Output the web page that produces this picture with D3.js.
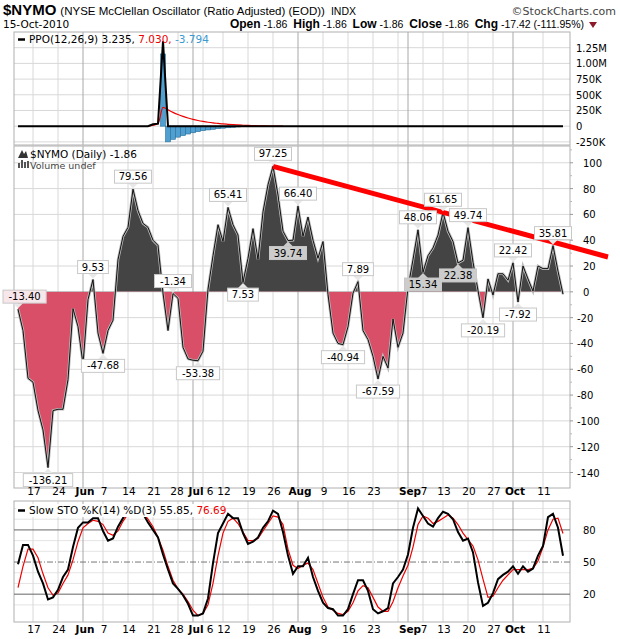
<!DOCTYPE html>
<html><head><meta charset="utf-8">
<script src="https://cdn.jsdelivr.net/npm/d3@7"></script>
<style>body{margin:0;background:#fff}svg{font-family:"DejaVu Sans",Verdana,sans-serif}</style>
</head><body><svg id="c" width="620" height="639"></svg>
<script>
// ---- data ----
const nymo = [-13.40,-30,-67,-70,-92,-107,-136.21,-92,-91,-91,-68,-13,-27,-56,-6,9.53,-32,-47.68,-30,-22,
25,43,50,79.56,63,53,50,40,36,-1,-30,-1.34,-5,-43,-52,-53,-53.38,-46,2,28,
52,39,65.41,52,44,7.53,26,49,25,62,83,97.25,75,47,39.74,40,66.40,43,58,40,
26,39,-2,-32,-40,-40.94,-27,-1,7.89,-30,-37,-50,-67.59,-50,-59,-21,-43,-32,3,25,
48.06,15.34,28,34,44,61.65,47,39,22.38,24.5,49.74,23,1,-20.19,10,-2.5,14,14,9,22.42,
-7.92,20,10,0.5,20,18,18,35.81,16,-1.86];
const ppo = Array.from({length:110},()=>0);
const ppoSpike = [[27,30000],[28,40000],[29,1350000]];
const signal = [[26,0],[28,40000],[29,300000],[30,260000],[31,220000],[32,185000],[33,155000],[34,130000],[35,108000],[36,90000],[37,75000],[38,62000],[39,52000],[40,44000],[41,36000],[42,30000],[43,24000],[44,19000],[45,15000],[46,12000],[47,9000],[48,7000],[49,5000],[50,3000],[51,2000],[52,1000],[53,0]];
const hist = [[29,1150000],[30,-250000],[31,-210000],[32,-175000],[33,-150000],[34,-125000],[35,-105000],[36,-88000],[37,-72000],[38,-60000],[39,-50000],[40,-40000],[41,-32000],[42,-25000],[43,-18000],[44,-12000],[45,-6000]];
const stoK = [48,66,66,56,41,30,15,17,24,36,43,64,82,87,87,91,91,79,70,72,
83,91,98,100,100,95,87,80,73,57,43,30,25,19,11,0,0,2,16,49,
77,86,95,91,91,77,67,69,73,82,88,98,95,78,56,39,46,46,54,36,
23,12,7,6,0,0,6,20,33,33,23,6,2,4,7,30,36,43,57,82,
100,93,86,83,91,97,95,90,78,70,72,59,31,9,12,21,34,38,41,46,
39,46,41,44,56,65,92,95,82,55.85];
const stoD = [26,46,62,62,54,39,26,19,21,30,38,52,69,82,86,89,88,85,77,75,
79,88,95,100,100,96,90,83,73,61,46,33,25,20,13,5,0,2,10,30,
56,77,88,91,86,78,70,70,72,79,86,93,92,85,62,47,44,47,49,43,
30,17,8,5,2,1,4,12,23,28,26,17,8,4,4,13,26,37,47,64,
85,93,91,86,88,91,94,91,85,77,71,65,52,34,17,18,26,33,38,43,
43,43,43,44,51,64,80,90,91,76.69];
const peakLabels = [[0,"above","pink"],[6,"below","w"],[15,"above","w"],[17,"below","w"],[23,"above","w"],[31,"above","w"],[36,"below","w"],[42,"above","w"],[45,"below","w"],[51,"above","w"],[54,"below","g"],[56,"above","w"],[65,"below","w"],[68,"above","w"],[72,"below","w"],[80,"above","w"],[81,"below","g"],[85,"above","w"],[88,"below","g"],[90,"above","w"],[93,"below","w"],[99,"above","w"],[100,"below","w"],[107,"above","w"]];
const trend = [[51,97.25],[118,27]];
const dateTickIdx = [3,8,13,17,22,27,32,35,37,41,46,51,56,61,66,71,76,78,81,85,90,95,99,105];
const dateTickLbl = ["17","24","Jun","7","14","21","28","Jul","6","12","19","26","Aug","9","16","23","","Sep","7","13","20","27","Oct","11"];
const monthIdx = [13,35,56,78,99];
const nymoTicks = [100,80,60,40,20,0,-20,-40,-60,-80,-100,-120,-140];
const ppoTicks = [1250000,1000000,750000,500000,250000,0,-250000];
const ppoTickLbl = ["1.25M","1.00M","750K","500K","250K","0","-250K"];
const stoTicks = [80,50,20];

// ---- layout ----
const svg = d3.select("#c");
const L=14, R=570;
const x = d3.scaleLinear().domain([0,109]).range([18,563]);
const P1={t:32,b:145}, P2={t:146,b:488}, P3={t:501,b:622};
const yP = d3.scaleLinear().domain([-300000,1500000]).range([P1.b,P1.t]);
const yN = d3.scaleLinear().domain([-152,113]).range([P2.b,P2.t]);
const yS = d3.scaleLinear().domain([-6,107]).range([P3.b,P3.t]);

function panel(P, y, hticks, minor){
  const g = svg.append("g");
  if(minor) minor.forEach(v=>g.append("line").attr("x1",L).attr("x2",R).attr("y1",y(v)).attr("y2",y(v)).attr("stroke","#e4e4e4"));
  hticks.forEach(v=>g.append("line").attr("x1",L).attr("x2",R).attr("y1",y(v)).attr("y2",y(v)).attr("stroke","#d8d8d8"));
  dateTickIdx.forEach(i=>{
    const m = monthIdx.includes(i);
    g.append("line").attr("x1",x(i)).attr("x2",x(i)).attr("y1",P.t).attr("y2",P.b).attr("stroke",m?"#a8a8a8":"#d8d8d8");
  });
  g.append("rect").attr("x",L).attr("y",P.t).attr("width",R-L).attr("height",P.b-P.t).attr("fill","none").attr("stroke","#b0b0b0");
  return g;
}
// PPO
panel(P1,yP,ppoTicks);
ppoTicks.forEach((v,k)=>svg.append("text").attr("x",576).attr("y",yP(v)+4).attr("font-size",10).text(ppoTickLbl[k]));
hist.forEach(d=>svg.append("rect").attr("x",x(d[0])-2.5).attr("width",5)
  .attr("y",Math.min(yP(0),yP(d[1]))).attr("height",Math.abs(yP(d[1])-yP(0)))
  .attr("fill","#4f9fd1").attr("stroke","#2a6f9c").attr("stroke-width",0.6));
svg.append("path").datum(signal).attr("d",d3.line().x(d=>x(d[0])).y(d=>yP(d[1])).curve(d3.curveMonotoneX)).attr("fill","none").attr("stroke","#e00").attr("stroke-width",1.2);
const ppoLine = ppo.map((v,i)=>{const s=ppoSpike.find(p=>p[0]===i);return [i,s?s[1]:v];});
svg.append("path").datum(ppoLine).attr("d",d3.line().x(d=>x(d[0])).y(d=>yP(d[1]))).attr("fill","none").attr("stroke","#000").attr("stroke-width",2);
svg.append("line").attr("x1",18).attr("x2",25).attr("y1",39.5).attr("y2",39.5).attr("stroke","#000").attr("stroke-width",2.5);
const lg1=svg.append("text").attr("x",29).attr("y",43).attr("font-size",10.5);
lg1.append("tspan").text("PPO(12,26,9) 3.235, ");
lg1.append("tspan").attr("fill","#e00").text("7.030, ");
lg1.append("tspan").attr("fill","#3a9ad0").text("-3.794");

// NYMO
panel(P2,yN,nymoTicks);
nymoTicks.forEach(v=>{
  svg.append("text").attr("x",v<0?577:583).attr("y",yN(v)+4).attr("font-size",10).text(v);
  svg.append("line").attr("x1",R).attr("x2",R+3).attr("y1",yN(v)).attr("y2",yN(v)).attr("stroke","#999");
  svg.append("line").attr("x1",R).attr("x2",R+2).attr("y1",yN(v+10)).attr("y2",yN(v+10)).attr("stroke","#bbb");
});
const defs=svg.append("defs");
defs.append("clipPath").attr("id","cUp").append("rect").attr("x",0).attr("y",P2.t).attr("width",620).attr("height",yN(0)-P2.t);
defs.append("clipPath").attr("id","cDn").append("rect").attr("x",0).attr("y",yN(0)).attr("width",620).attr("height",P2.b-yN(0));
const area = d3.area().x((d,i)=>x(i)).y0(yN(0)).y1(d=>yN(d));
svg.append("path").datum(nymo).attr("d",area).attr("fill","#444").attr("clip-path","url(#cUp)");
svg.append("path").datum(nymo).attr("d",area).attr("fill","#d94f67").attr("clip-path","url(#cDn)");
const ln = d3.line().x((d,i)=>x(i)).y(d=>yN(d));
svg.append("path").datum(nymo).attr("d",ln).attr("fill","none").attr("stroke","#bbb").attr("stroke-width",2.6);
svg.append("path").datum(nymo).attr("d",ln).attr("fill","none").attr("stroke","#111").attr("stroke-width",1);
svg.append("path").datum(trend).attr("d",d3.line().x(d=>x(d[0])).y(d=>yN(d[1]))).attr("stroke","#f00").attr("stroke-width",5);
peakLabels.forEach(([i,pos,st])=>{
  const v=nymo[i], t=v.toFixed(2), w=t.length*6.2+6, h=13;
  const px=x(i), py=yN(v);
  let bx=Math.max(3,px-w/2);
  const by = pos==="above"? py-6-h : py+6;
  const fill = st==="g"?"#ccc":st==="pink"?"#f7e6ea":"#fff";
  const tri = pos==="above"? [[px-5,by+h],[px+5,by+h],[px,py-1]] : [[px-5,by],[px+5,by],[px,py+1]];
  svg.append("path").attr("d",d3.line()(tri)+"Z").attr("fill",st==="g"?"#ccc":"#e8e8e8");
  svg.append("rect").attr("x",bx).attr("y",by).attr("width",w).attr("height",h).attr("fill",fill).attr("stroke","#c8c8c8");
  svg.append("text").attr("x",bx+w/2).attr("y",by+10).attr("text-anchor","middle").attr("font-size",10).text(t);
});
svg.append("path").attr("d","M18,158 L22,150 L24,154 L26,151 L28,158Z").attr("fill","#333");
svg.append("text").attr("x",30).attr("y",158).attr("font-size",10.5).text("$NYMO (Daily) -1.86");
[[18,5],[21,8],[24,6],[27,7]].forEach(d=>svg.append("rect").attr("x",d[0]).attr("y",168-d[1]).attr("width",2).attr("height",d[1]).attr("fill","#555"));
svg.append("text").attr("x",30).attr("y",168.5).attr("font-size",9.5).attr("fill","#444").text("Volume undef");

// Stochastic
const stoMinor=[10,30,40,60,70,90,100];
panel(P3,yS,[],stoMinor);
svg.append("line").attr("x1",L).attr("x2",R).attr("y1",yS(80)).attr("y2",yS(80)).attr("stroke","#666");
svg.append("line").attr("x1",L).attr("x2",R).attr("y1",yS(20)).attr("y2",yS(20)).attr("stroke","#666");
svg.append("line").attr("x1",L).attr("x2",R).attr("y1",yS(50)).attr("y2",yS(50)).attr("stroke","#777").attr("stroke-dasharray","6,2,1,2");
stoTicks.forEach(v=>svg.append("text").attr("x",583).attr("y",yS(v)+4).attr("font-size",10).text(v));
defs.append("clipPath").attr("id","cS").append("rect").attr("x",L).attr("y",P3.t).attr("width",R-L).attr("height",P3.b-P3.t);
const sl = d3.line().x((d,i)=>x(i)).y(d=>yS(d));
svg.append("path").datum(stoD).attr("d",sl).attr("fill","none").attr("stroke","#e00").attr("stroke-width",1.2).attr("clip-path","url(#cS)");
svg.append("path").datum(stoK).attr("d",sl).attr("fill","none").attr("stroke","#000").attr("stroke-width",2).attr("clip-path","url(#cS)");
svg.append("rect").attr("x",16).attr("y",504).attr("width",188).attr("height",13).attr("fill","#fff");
svg.append("line").attr("x1",18).attr("x2",25).attr("y1",510.5).attr("y2",510.5).attr("stroke","#000").attr("stroke-width",2.5);
const lg3=svg.append("text").attr("x",29).attr("y",514).attr("font-size",10.5);
lg3.append("tspan").text("Slow STO %K(14) %D(3) 55.85, ");
lg3.append("tspan").attr("fill","#e00").text("76.69");

// date labels
[495,633].forEach(yy=>dateTickIdx.forEach((i,k)=>{
  const m=monthIdx.includes(i);
  if(!dateTickLbl[k]) return;
  const sh = m ? (i===35?3:2) : (i===37?7:(i===32?-1:1));
  svg.append("text").attr("x",x(i)+sh).attr("y",yy).attr("text-anchor","middle").attr("font-size",10.5)
    .attr("font-weight",m?"bold":"normal").text(dateTickLbl[k]);
}));

// header
const h1=svg.append("text").attr("x",3).attr("y",15).attr("font-family","'Liberation Sans',Arial,sans-serif");
h1.append("tspan").attr("font-size",15).attr("font-weight","bold").text("$NYMO");
h1.append("tspan").attr("font-size",11.5).attr("dx",4).text("(NYSE McClellan Oscillator (Ratio Adjusted) (EOD))");
h1.append("tspan").attr("font-size",10.5).attr("dx",6).text("INDX");
svg.append("text").attr("x",616).attr("y",15).attr("text-anchor","end").attr("font-size",11).attr("fill","#444").text("©StockCharts.com");
svg.append("text").attr("x",3).attr("y",28).attr("font-size",10.5).text("15-Oct-2010");
const h2=svg.append("text").attr("x",584).attr("y",28).attr("text-anchor","end").attr("font-size",10.5).attr("font-family","'Liberation Sans',Arial,sans-serif");
[["Open"," -1.86  "],["High"," -1.86  "],["Low"," -1.86  "],["Close"," -1.86  "],["Chg"," -17.42 (-111.95%)"]].forEach(([a,b])=>{
  h2.append("tspan").attr("font-weight","bold").attr("font-size",12).text(a);
  h2.append("tspan").attr("xml:space","preserve").text(b);
});
svg.append("path").attr("d","M589,22 L597,22 L593,28Z").attr("fill","#8b1a2a");
</script></body></html>
